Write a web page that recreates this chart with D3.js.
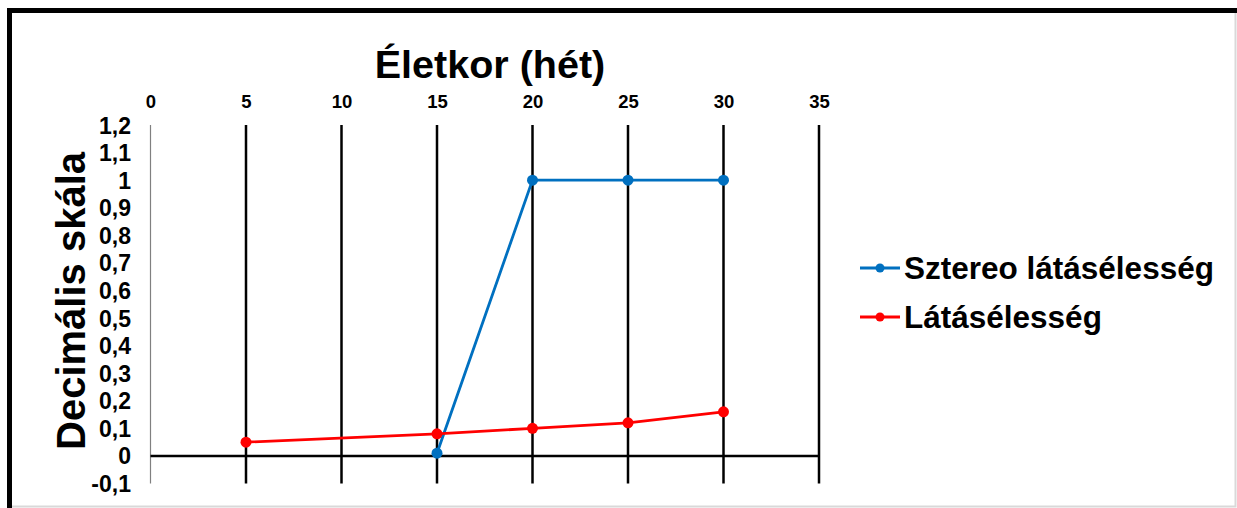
<!DOCTYPE html>
<html>
<head>
<meta charset="utf-8">
<script src="https://cdn.jsdelivr.net/npm/d3@7"></script>
<style>
  html, body { margin: 0; padding: 0; background: #fff; }
  svg { display: block; font-family: "Liberation Sans", Arial, sans-serif; font-weight: bold; }
  .tick text { font-family: "Liberation Sans", Arial, sans-serif; font-weight: bold; fill: #000; }
  .xax .tick text { font-size: 18.5px; }
  .yax .tick text { font-size: 23px; }
</style>
</head>
<body>
<svg id="chart" width="1237" height="508"></svg>
<script>
// Age in weeks and decimal acuity values
const weeks = [0, 5, 10, 15, 20, 25, 30, 35];
const yTicks = [-0.1, 0, 0.1, 0.2, 0.3, 0.4, 0.5, 0.6, 0.7, 0.8, 0.9, 1, 1.1, 1.2];
const stereoWeeks = [15, 20, 25, 30];
const stereoValues = [0.01, 1, 1, 1];
const acuityWeeks = [5, 15, 20, 25, 30];
const acuityValues = [0.05, 0.08, 0.1, 0.12, 0.16];
const seriesNames = ["Sztereo látásélesség", "Látásélesség"];
const seriesColors = ["#0070C0", "#FF0000"];

const svg = d3.select("#chart");

// frame: heavy top/left edge, light right/bottom edge
svg.append("rect").attr("x", 0).attr("y", 0).attr("width", 1237).attr("height", 508).attr("fill", "#fff");
svg.append("path").attr("d", "M9.5,508 V10.5 H1237").attr("fill", "none").attr("stroke", "#000").attr("stroke-width", 5);
svg.append("path").attr("d", "M1235.5,13 V506.5 H12").attr("fill", "none").attr("stroke", "#d9d9d9").attr("stroke-width", 2);

const x = d3.scaleLinear().domain([0, 35]).range([150.5, 819]);
const y = d3.scaleLinear().domain([-0.1, 1.2]).range([483.5, 125]);

// vertical grid lines at each week tick
svg.append("g").selectAll("line").data(weeks.filter(d => d > 0)).join("line")
  .attr("x1", d => x(d)).attr("x2", d => x(d))
  .attr("y1", y(1.2)).attr("y2", y(-0.1))
  .attr("stroke", "#000").attr("stroke-width", 2.5);

// value axis line
svg.append("line").attr("x1", x(0)).attr("x2", x(0)).attr("y1", y(1.2)).attr("y2", y(-0.1))
  .attr("stroke", "#808080").attr("stroke-width", 1.2);

// zero line
svg.append("line").attr("x1", x(0)).attr("x2", x(35)).attr("y1", y(0)).attr("y2", y(0))
  .attr("stroke", "#000").attr("stroke-width", 2.5);

// top week axis labels
const xAxis = d3.axisTop(x).tickValues(weeks).tickSize(0).tickPadding(0).tickFormat(d3.format("d"));
const gx = svg.append("g").attr("class", "xax").attr("transform", `translate(0,${108})`).call(xAxis);
gx.attr("font-size", null).attr("font-family", null);
gx.select(".domain").remove();

// left value axis labels with decimal comma
const fmt = d => (Math.round(d * 10) / 10).toString().replace(".", ",");
const yAxis = d3.axisLeft(y).tickValues(yTicks).tickSize(0).tickPadding(0).tickFormat(fmt);
const gy = svg.append("g").attr("class", "yax").attr("transform", `translate(${131},0)`).call(yAxis);
gy.attr("font-size", null).attr("font-family", null);
gy.select(".domain").remove();
gy.selectAll("text").attr("dy", "0.35em");

// titles
svg.append("text").attr("x", 490).attr("y", 78).attr("text-anchor", "middle")
  .attr("font-size", 39.5).text("Életkor (hét)");
svg.append("text").attr("transform", "translate(85,301) rotate(-90)").attr("text-anchor", "middle")
  .attr("font-size", 40).text("Decimális skála");

// series
const series = [
  { name: seriesNames[0], color: seriesColors[0], pts: stereoWeeks.map((w, i) => [w, stereoValues[i]]) },
  { name: seriesNames[1], color: seriesColors[1], pts: acuityWeeks.map((w, i) => [w, acuityValues[i]]) }
];
const line = d3.line().x(d => x(d[0])).y(d => y(d[1]));
series.forEach(s => {
  svg.append("path").attr("d", line(s.pts)).attr("fill", "none")
    .attr("stroke", s.color).attr("stroke-width", 2.8);
  svg.append("g").selectAll("circle").data(s.pts).join("circle")
    .attr("cx", d => x(d[0])).attr("cy", d => y(d[1])).attr("r", 5.5)
    .attr("fill", s.color);
});

// legend
const legend = svg.append("g");
series.forEach((s, i) => {
  const ly = 268 + i * 49;
  legend.append("line").attr("x1", 860).attr("x2", 900).attr("y1", ly).attr("y2", ly)
    .attr("stroke", s.color).attr("stroke-width", 2.8);
  legend.append("circle").attr("cx", 880).attr("cy", ly).attr("r", 4.5).attr("fill", s.color);
  legend.append("text").attr("x", 904).attr("y", ly).attr("dy", "0.35em")
    .attr("font-size", 31.5).text(s.name);
});
</script>
</body>
</html>
